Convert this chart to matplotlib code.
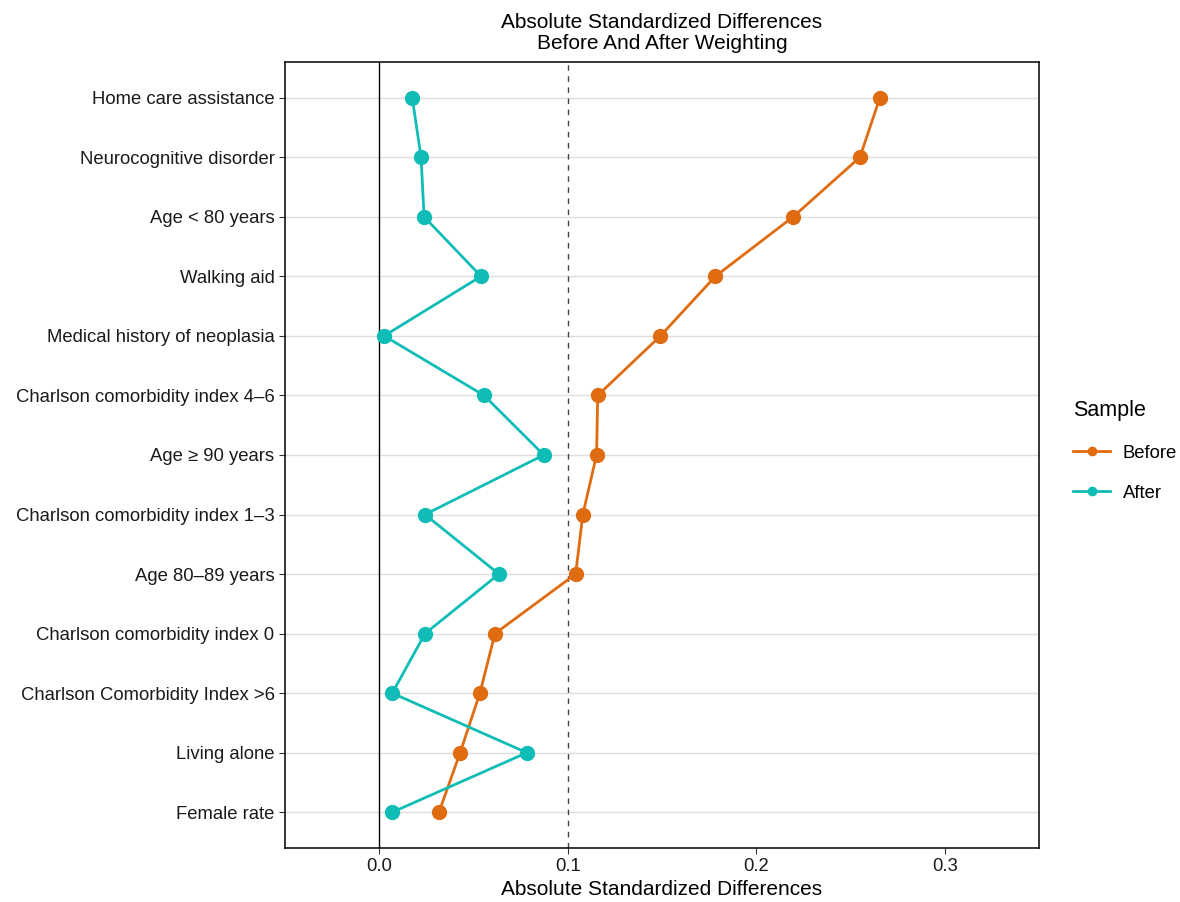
import matplotlib.pyplot as plt
from matplotlib.lines import Line2D

plt.rcParams['font.family'] = ['Liberation Sans', 'DejaVu Sans']

# covariates, top to bottom
variables = ['Home care assistance', 'Neurocognitive disorder', 'Age < 80 years',
             'Walking aid', 'Medical history of neoplasia', 'Charlson comorbidity index 4\u20136',
             'Age \u2265 90 years', 'Charlson comorbidity index 1\u20133', 'Age 80\u201389 years',
             'Charlson comorbidity index 0', 'Charlson Comorbidity Index >6', 'Living alone',
             'Female rate']
before = [0.2656, 0.2550, 0.2196, 0.1783, 0.1492, 0.1159, 0.1153, 0.1080, 0.1042,
          0.0614, 0.0534, 0.0429, 0.0317]
after = [0.0175, 0.0222, 0.0238, 0.0540, 0.0026, 0.0556, 0.0873, 0.0243, 0.0635,
         0.0243, 0.0069, 0.0783, 0.0069]

c_before = '#E06C12'
c_after = '#10BDB6'

fig = plt.figure(figsize=(11.8, 9.02), dpi=100)
ax = fig.add_axes([0.2415, 0.0599, 0.6390, 0.8714])

n = len(variables)
ypos = [n - 1 - i for i in range(n)]

for y in ypos:
    ax.axhline(y, color='#DEDEDE', lw=1.0, zorder=0)
ax.axvline(0, color='black', lw=1.0, zorder=1)
ax.axvline(0.1, color='#444444', lw=1.0, ls=(0, (4, 4)), zorder=1)

ax.plot(before, ypos, color=c_before, lw=2, marker='o', ms=10, zorder=3)
ax.plot(after, ypos, color=c_after, lw=2, marker='o', ms=10, zorder=3)

ax.set_xlim(-0.05, 0.35)
ax.set_ylim(-0.6, n - 1 + 0.6)
ax.set_xticks([0.0, 0.1, 0.2, 0.3])
ax.set_xticklabels(['0.0', '0.1', '0.2', '0.3'])
ax.set_yticks(ypos)
ax.set_yticklabels(variables)
ax.tick_params(axis='both', labelsize=13.3, color='#333333', length=4, labelcolor='#1a1a1a')
for s in ax.spines.values():
    s.set_linewidth(1.1)

ax.set_xlabel('Absolute Standardized Differences', fontsize=15, labelpad=3)
ax.set_title('Absolute Standardized Differences\nBefore And After Weighting', fontsize=15,
             linespacing=1.15, pad=9)

handles = [Line2D([0], [0], color=c_before, lw=2, marker='o', ms=6),
           Line2D([0], [0], color=c_after, lw=2, marker='o', ms=6)]
leg = fig.legend(handles, ['Before', 'After'], title='Sample', loc='center left',
                 bbox_to_anchor=(0.9, 0.5), frameon=False, fontsize=13.3,
                 title_fontsize=15.5, handlelength=2.0, handletextpad=0.7,
                 labelspacing=1.25, borderaxespad=0.2)
leg._legend_box.align = 'left'

fig.savefig('out.png', dpi=100)
